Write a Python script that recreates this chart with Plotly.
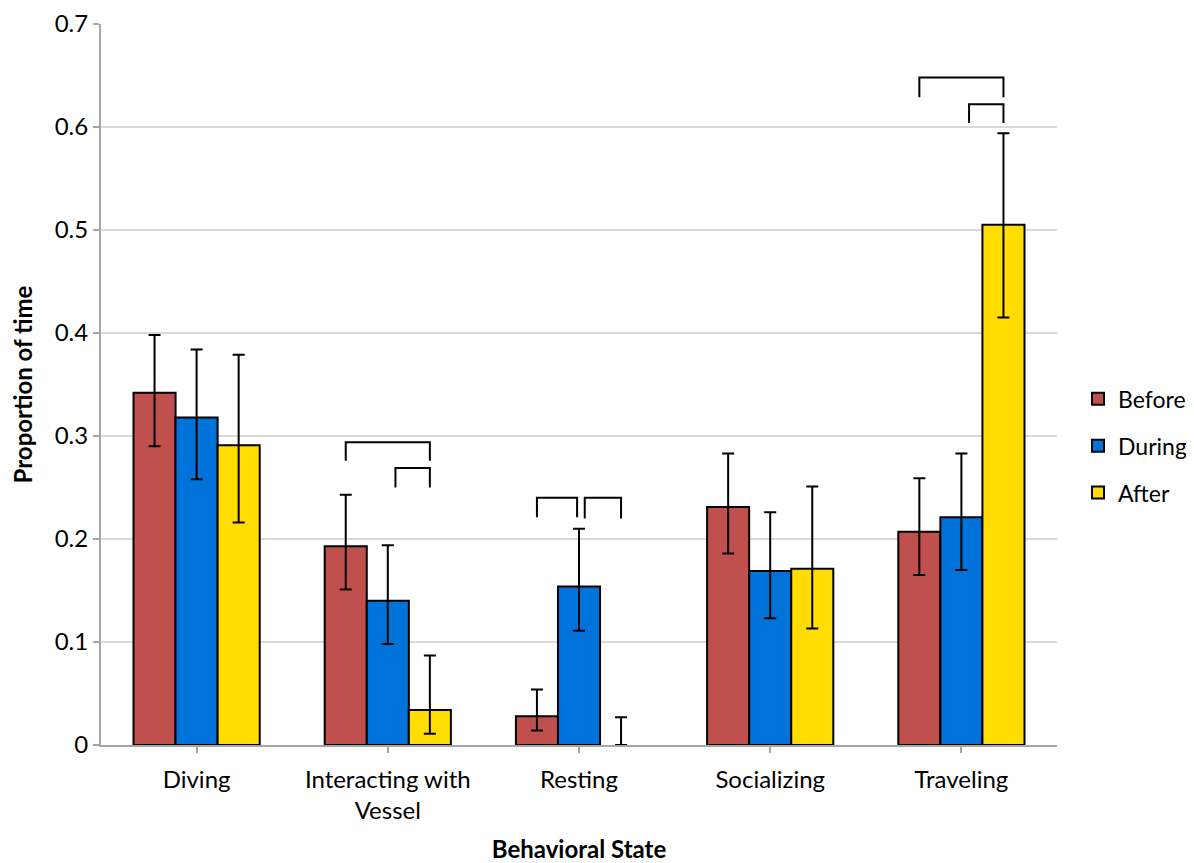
import plotly.graph_objects as go

categories = ["Diving", "Interacting with<br>Vessel", "Resting", "Socializing", "Traveling"]
series = ["Before", "During", "After"]
colors = ["#C0504D", "#0073DA", "#FFDD00"]

values = {
    "Before": [0.342, 0.193, 0.028, 0.231, 0.207],
    "During": [0.318, 0.140, 0.154, 0.169, 0.221],
    "After":  [0.291, 0.034, 0.000, 0.171, 0.505],
}
err_hi = {
    "Before": [0.398, 0.243, 0.054, 0.283, 0.259],
    "During": [0.384, 0.194, 0.210, 0.226, 0.283],
    "After":  [0.379, 0.087, 0.027, 0.251, 0.594],
}
err_lo = {
    "Before": [0.290, 0.151, 0.014, 0.186, 0.165],
    "During": [0.258, 0.098, 0.111, 0.123, 0.170],
    "After":  [0.216, 0.011, 0.000, 0.113, 0.415],
}

# significance brackets: (category index, from series idx, to series idx, top y, leg bottom y)
brackets = [
    (1, 0, 2, 0.294, 0.276),
    (1, 1, 2, 0.269, 0.250),
    (2, 0, 1, 0.240, 0.221),
    (2, 1, 2, 0.240, 0.220),
    (4, 0, 2, 0.648, 0.629),
    (4, 1, 2, 0.622, 0.604),
]

FONT = "Lato, 'Open Sans', sans-serif"
bargap = 0.34
bar_w = (1 - bargap) / 3

fig = go.Figure()
for i, s in enumerate(series):
    v = values[s]
    plus = [h - b for h, b in zip(err_hi[s], v)]
    minus = [b - l for b, l in zip(v, err_lo[s])]
    outline = [2 if val > 0 else 0 for val in v]
    fig.add_trace(go.Bar(
        name=s, x=list(range(len(categories))), y=v, legendgroup=s,
        marker=dict(color=colors[i], line=dict(color="black", width=outline)),
        error_y=dict(type="data", symmetric=False, array=plus, arrayminus=minus,
                     color="black", thickness=2, width=6),
    ))

for (c, a, b, top, bot) in brackets:
    xa = c + (a - 1) * bar_w
    xb = c + (b - 1) * bar_w
    # slight separation for adjacent brackets sharing a bar
    if b - a == 1 and b == 2 and c == 2:
        xa += 0.03
    elif b - a == 1 and b == 2:
        xa += 0.04
    elif b - a == 1:
        xb -= 0.01
    fig.add_shape(type="path",
                  path=f"M {xa} {bot} L {xa} {top} L {xb} {top} L {xb} {bot}",
                  line=dict(color="black", width=2), xref="x", yref="y")

# page body has an 8px margin, so the figure is sized/offset to compensate
fig.update_layout(
    width=1186, height=855,
    margin=dict(l=93, r=137, t=16, b=118, autoexpand=False),
    paper_bgcolor="white", plot_bgcolor="white",
    barmode="group", bargap=bargap, bargroupgap=0,
    font=dict(family=FONT, size=24, color="black"),
    showlegend=True,
    legend=dict(x=1.022, y=0.415, xanchor="left", yanchor="middle",
                font=dict(size=23), itemsizing="constant", tracegroupgap=14,
                bgcolor="rgba(0,0,0,0)", borderwidth=0),
    xaxis=dict(
        tickmode="array", tickvals=list(range(len(categories))), ticktext=categories,
        range=[-0.5, 4.5], showgrid=False, showline=True, linecolor="#A6A6A6", linewidth=2,
        ticks="outside", ticklen=6, tickcolor="#A6A6A6", tickwidth=2,
        tickfont=dict(size=24), automargin=False, ticklabelstandoff=6,
        title=dict(text="<b>Behavioral State</b>", font=dict(size=24), standoff=36),
    ),
    yaxis=dict(
        range=[0, 0.7], dtick=0.1, tickformat="~g",
        showgrid=True, gridcolor="#D9D9D9", gridwidth=2,
        showline=True, linecolor="#A6A6A6", linewidth=2,
        ticks="outside", ticklen=6, tickcolor="#A6A6A6", tickwidth=2,
        tickfont=dict(size=24), zeroline=False, automargin=False,
        title=dict(text="<b>Proportion of time</b>", font=dict(size=24), standoff=20),
    ),
)

fig.write_html("out.html")
